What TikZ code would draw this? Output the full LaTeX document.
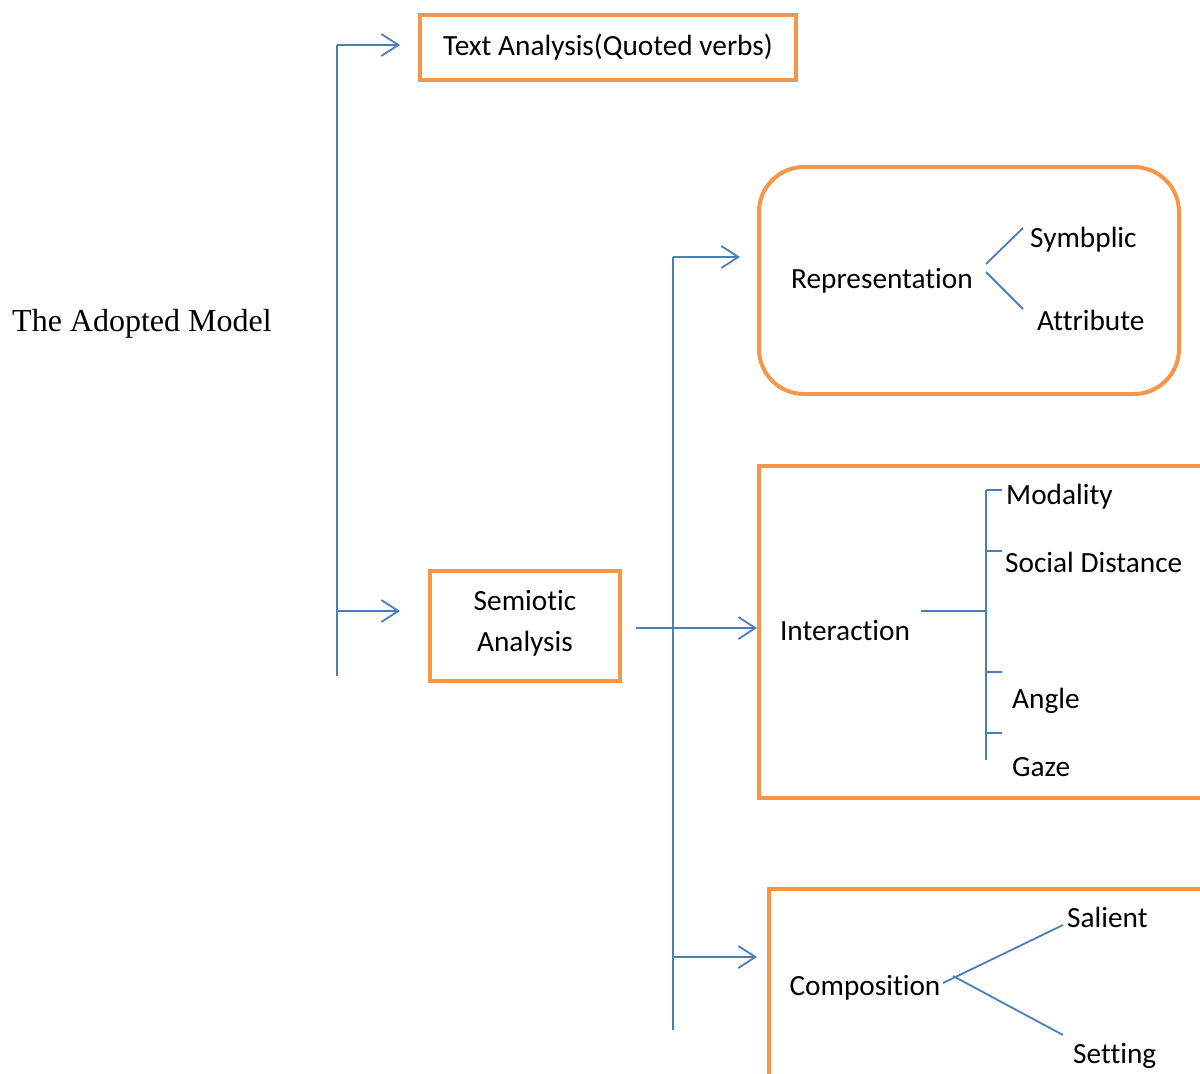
\documentclass[tikz,border=0pt]{standalone}
\usepackage{fontspec}
\setmainfont[Ligatures=NoCommon]{Carlito}
\newfontfamily\timesf{Liberation Serif}
\usetikzlibrary{arrows.meta}
\definecolor{lnblue}{HTML}{4A7EBB}
\definecolor{boxor}{HTML}{F79646}
\begin{document}
\begin{tikzpicture}[x=1pt,y=-1pt,
  conn/.style={draw=lnblue, line width=1.8pt},
  arr/.style={conn, -{Straight Barb[length=17pt,width=22pt,line width=1.8pt]}},
  obox/.style={draw=boxor, line width=4pt, inner sep=0pt},
  lbl/.style={inner sep=0pt, font=\fontsize{29.3}{35}\selectfont}]
\useasboundingbox (0,0) rectangle (1200,1074);
\clip (0,0) rectangle (1200,1074);
% boxes
\node[obox, minimum width=376pt, minimum height=65pt] (tbox) at (608,47.5) {};
\node[obox, minimum width=190pt, minimum height=110pt] (semi) at (525,626) {};
\node[obox, rounded corners=45pt, minimum width=420pt, minimum height=227pt] (rep) at (969,280.5) {};
\node[obox, minimum width=501pt, minimum height=332pt] (int) at (1009.5,632) {};
\node[obox, minimum width=491pt, minimum height=241pt] (comp) at (1014.5,1009.5) {};
% main left trunk
\coordinate (L1) at (337,45);
\coordinate (L2) at (337,676);
\coordinate (Lb) at (337,611);
\coordinate (ta) at (400,45);
\coordinate (sa) at (400,611);
\draw[conn] (L1) -- (L2);
\draw[arr] (L1) -- (ta);
\draw[arr] (Lb) -- (sa);
% second trunk
\coordinate (V1) at (673,257);
\coordinate (V2) at (673,1030);
\coordinate (Vc) at (673,957);
\coordinate (ra) at (740,257);
\coordinate (ca) at (757,957);
\coordinate (s0) at (636,628);
\draw[conn] (V1) -- (V2);
\draw[arr] (V1) -- (ra);
\draw[arr] (Vc) -- (ca);
\draw[arr] (s0) -- (s0 -| int.west);
% texts
\node[inner sep=0pt, anchor=base west, font=\timesf\fontsize{32}{38}\selectfont] (model) at (12,331) {The Adopted Model};
\node[lbl, anchor=base] (ttxt) at (608,55) {Text Analysis(Quoted verbs)};
\node[lbl, anchor=base] (semt1) at (525,610) {Semiotic};
\node[lbl, anchor=base] (semt2) at (525,651) {Analysis};
\node[lbl, anchor=base] (rept) at (882,288) {Representation};
\node[lbl, anchor=base west] (sym) at (1030,247) {Symbplic};
\node[lbl, anchor=base west] (att) at (1037,330) {Attribute};
\node[lbl, anchor=base] (intt) at (845,640) {Interaction};
\node[lbl, anchor=base west] (mod) at (1006,504) {Modality};
\node[lbl, anchor=base west] (soc) at (1005,572) {Social Distance};
\node[lbl, anchor=base west] (ang) at (1012,708) {Angle};
\node[lbl, anchor=base west] (gaz) at (1012,776) {Gaze};
\node[lbl, anchor=base] (compt) at (865,995) {Composition};
\node[lbl, anchor=base west] (sal) at (1067,927) {Salient};
\node[lbl, anchor=base west] (set) at (1073,1063) {Setting};
% representation branches
\coordinate (r0a) at (986,264);
\coordinate (r0b) at (986,272);
\coordinate (r1) at (1023,228);
\coordinate (r2) at (1023,309);
\draw[conn] (r0a) -- (r1);
\draw[conn] (r0b) -- (r2);
% interaction bracket
\coordinate (i0) at (921,611);
\coordinate (i1) at (986,611);
\coordinate (it) at (986,490);
\coordinate (ib) at (986,760);
\draw[conn] (i0) -- (i1);
\draw[conn] (it) -- (ib);
\foreach \yy in {490,551,672,733} {
  \draw[conn] (986,\yy) -- (1002,\yy);
}
% composition branches
\coordinate (c0a) at (943,983);
\coordinate (c0b) at (953,976);
\coordinate (c1) at (1063,925);
\coordinate (c2) at (1063,1035);
\draw[conn] (c0a) -- (c1);
\draw[conn] (c0b) -- (c2);
\end{tikzpicture}
\end{document}
